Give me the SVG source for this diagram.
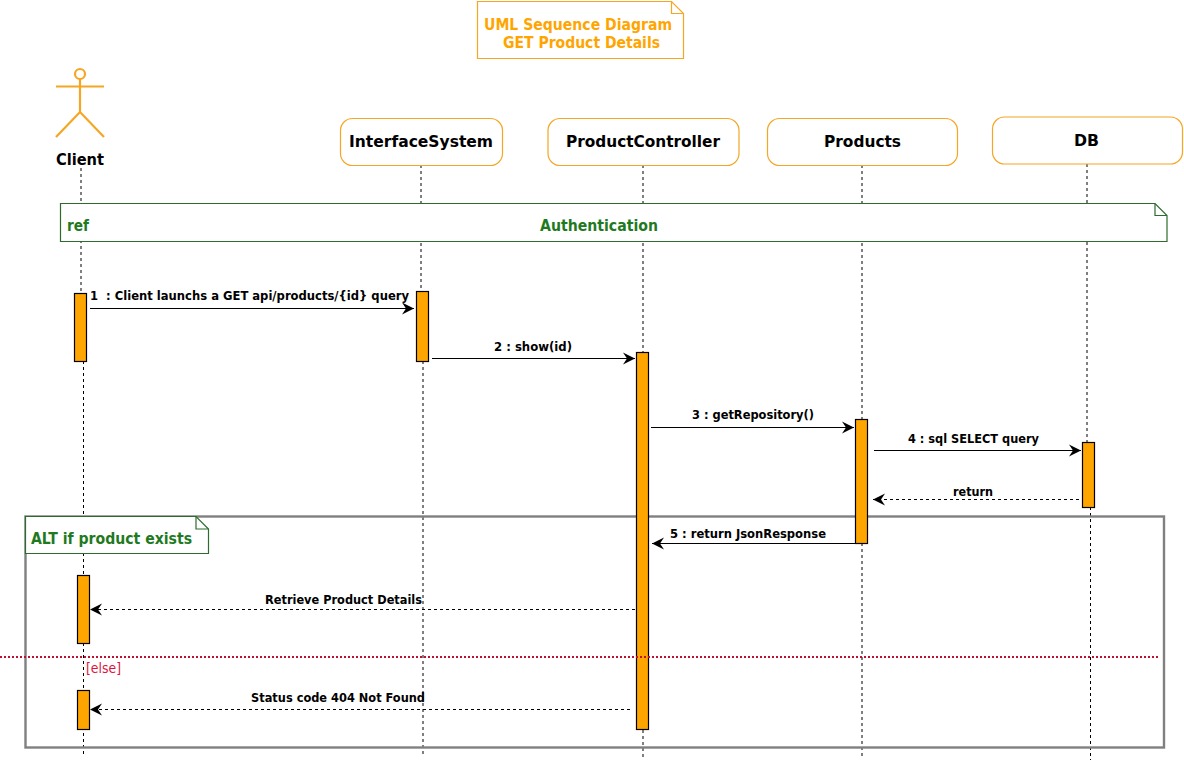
<svg xmlns="http://www.w3.org/2000/svg" width="1184" height="765" viewBox="0 0 1184 765">
<style>
text{font-family:"DejaVu Sans Condensed","DejaVu Sans","Liberation Sans",sans-serif;font-weight:700}
.life{fill:none;stroke:#000;stroke-width:1;stroke-dasharray:3 3}
.msg{fill:none;stroke:#000;stroke-width:1.2}
.ret{stroke-dasharray:3 3}
.act{fill:#FFA500;stroke:#000;stroke-width:1.2}
.box{fill:#fff;stroke:#F5A623;stroke-width:1.2}
.note{fill:#fff;stroke:#2E6B2E;stroke-width:1.2}
.fold{fill:none;stroke:#2E6B2E;stroke-width:1.2}
.g{fill:#1F7A1F;font-size:16px}
.n{fill:#000;font-size:16px}
.m{fill:#000;font-size:12px}
.o{fill:#FFA500;font-size:16px}
</style>
<defs>
<marker id="arrow" markerUnits="userSpaceOnUse" markerWidth="14" markerHeight="14" refX="12" refY="7" orient="auto">
<path d="M0,1 L12,7 L0,13 L4,7 Z" fill="#000"/>
</marker>
</defs>
<g id="lifelines">
<path class="life" d="M81,168V293M83.500,361V757"/>
<path class="life" d="M421,165V291M423,361V757"/>
<path class="life" d="M643,165V352M643,730V757"/>
<path class="life" d="M862,165V419M862,543V758"/>
<path class="life" d="M1087,164V442M1090.500,507V760"/>
</g>
<g id="title-note">
<path d="M477.500,1.500H671.500L683.500,13.500V58.500H477.500Z" fill="#fff" stroke="#F5A623" stroke-width="1.200"/>
<path d="M671.500,1.500V13.500H683.500" fill="none" stroke="#F5A623" stroke-width="1.200"/>
<text class="o" x="578" y="30" text-anchor="middle" textLength="188" lengthAdjust="spacingAndGlyphs">UML Sequence Diagram</text>
<text class="o" x="581.500" y="48" text-anchor="middle" textLength="157" lengthAdjust="spacingAndGlyphs">GET Product Details</text>
</g>
<g id="client">
<g fill="none" stroke="#F5A623" stroke-width="2.200">
<circle cx="80" cy="74" r="5"/>
<path d="M56,86.500H104M80,79V112M56,137L80,112L104,137"/>
</g>
<text class="n" x="80" y="165" text-anchor="middle" textLength="48" lengthAdjust="spacingAndGlyphs">Client</text>
</g>
<g id="interfacesystem">
<rect class="box" x="340.500" y="118.500" width="162" height="47" rx="12"/>
<text class="n" x="421" y="147" text-anchor="middle" textLength="144" lengthAdjust="spacingAndGlyphs">InterfaceSystem</text>
</g>
<g id="productcontroller">
<rect class="box" x="548" y="118.500" width="191" height="47" rx="12"/>
<text class="n" x="643" y="147" text-anchor="middle" textLength="154" lengthAdjust="spacingAndGlyphs">ProductController</text>
</g>
<g id="products">
<rect class="box" x="767.500" y="118.500" width="190" height="47" rx="12"/>
<text class="n" x="862.500" y="147" text-anchor="middle" textLength="77" lengthAdjust="spacingAndGlyphs">Products</text>
</g>
<g id="db">
<rect class="box" x="992.500" y="117" width="190" height="47" rx="12"/>
<text class="n" x="1086.500" y="146" text-anchor="middle" textLength="25" lengthAdjust="spacingAndGlyphs">DB</text>
</g>
<g id="ref-authentication">
<path class="note" d="M60.500,203.500H1155L1167,215.500V241.500H60.500Z"/>
<path class="fold" d="M1155,203.500V215.500H1167"/>
<text class="g" x="67" y="231" textLength="22" lengthAdjust="spacingAndGlyphs">ref</text>
<text class="g" x="599" y="231" text-anchor="middle" textLength="118" lengthAdjust="spacingAndGlyphs">Authentication</text>
</g>
<g id="alt-frame">
<rect x="25.500" y="516.500" width="1138.500" height="231" fill="none" stroke="#808080" stroke-width="2.400"/>
</g>
<g id="activations">
<rect class="act" x="74.500" y="293.500" width="12" height="68"/>
<rect class="act" x="416.500" y="291.500" width="12" height="70"/>
<rect class="act" x="636.500" y="352.500" width="12" height="377"/>
<rect class="act" x="855.500" y="419.500" width="12" height="124"/>
<rect class="act" x="1082.500" y="442.500" width="12" height="65"/>
<rect class="act" x="77.500" y="575.500" width="12" height="68"/>
<rect class="act" x="77.500" y="690.500" width="12" height="39"/>
</g>
<g id="alt-note">
<path class="note" d="M25.500,516.500H196L208.500,529V553.500H25.500Z"/>
<path class="fold" d="M196,516.500V529H208.500"/>
<text class="g" x="31" y="544" textLength="161" lengthAdjust="spacingAndGlyphs">ALT if product exists</text>
</g>
<g id="connectors">
<path class="msg" d="M90,308.500H414" marker-end="url(#arrow)"/>
<path class="msg" d="M432,358.500H635" marker-end="url(#arrow)"/>
<path class="msg" d="M651,427.500H854" marker-end="url(#arrow)"/>
<path class="msg" d="M874,450.500H1081" marker-end="url(#arrow)"/>
<path class="msg ret" d="M1079,499.500H873" marker-end="url(#arrow)"/>
<path class="msg" d="M855,543.500H652" marker-end="url(#arrow)"/>
<path class="msg ret" d="M635,609.500H90" marker-end="url(#arrow)"/>
<path class="msg ret" d="M630,709.500H90" marker-end="url(#arrow)"/>
</g>
<g id="else-divider">
<path d="M0,657H1160" fill="none" stroke="#C01030" stroke-width="2" stroke-dasharray="2 2"/>
<text x="86" y="673" fill="#DC143C" font-size="14" style="font-weight:400" textLength="35" lengthAdjust="spacingAndGlyphs">[else]</text>
</g>
<g id="labels">
<text class="m" x="90" y="300" textLength="319" lengthAdjust="spacingAndGlyphs">1&#160; : Client launchs a GET api/products/{id} query</text>
<text class="m" x="494" y="351" textLength="78" lengthAdjust="spacingAndGlyphs">2 : show(id)</text>
<text class="m" x="692" y="419" textLength="122" lengthAdjust="spacingAndGlyphs">3 : getRepository()</text>
<text class="m" x="908" y="443" textLength="131" lengthAdjust="spacingAndGlyphs">4 : sql SELECT query</text>
<text class="m" x="953" y="496" textLength="40" lengthAdjust="spacingAndGlyphs">return</text>
<text class="m" x="670" y="538" textLength="156" lengthAdjust="spacingAndGlyphs">5 : return JsonResponse</text>
<text class="m" x="265" y="604" textLength="157" lengthAdjust="spacingAndGlyphs">Retrieve Product Details</text>
<text class="m" x="251" y="702" textLength="174" lengthAdjust="spacingAndGlyphs">Status code 404 Not Found</text>
</g>
</svg>
